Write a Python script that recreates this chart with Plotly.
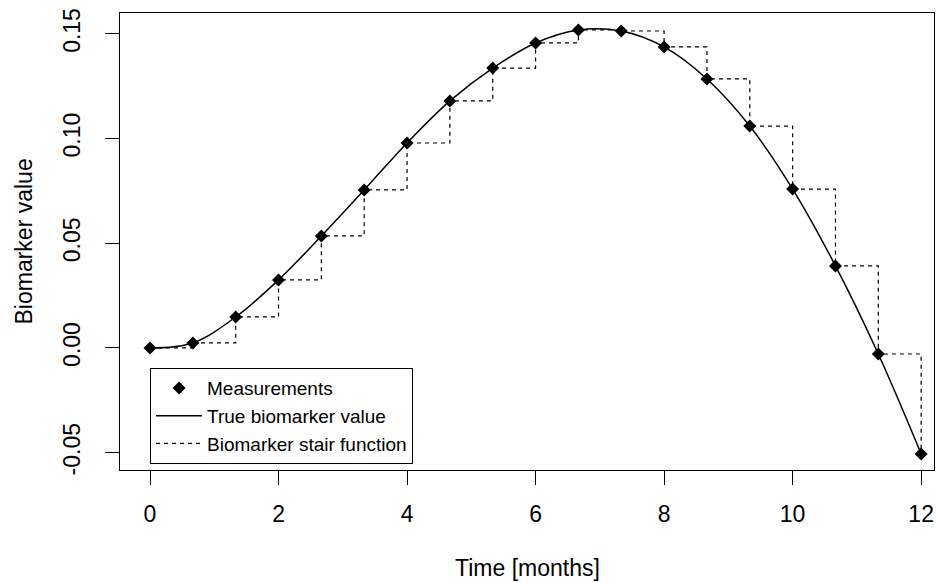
import plotly.graph_objects as go

# Measurement times (months) and biomarker values
months = [0, 2/3, 4/3, 2, 8/3, 10/3, 4, 14/3, 16/3, 6, 20/3, 22/3, 8,
          26/3, 28/3, 10, 32/3, 34/3, 12]
values = [0.0000, 0.0024, 0.0148, 0.0325, 0.0535, 0.0755, 0.0979, 0.1180,
          0.1337, 0.1457, 0.1519, 0.1514, 0.1438, 0.1285, 0.1060, 0.0759,
          0.0392, -0.0029, -0.0506]

x_ticks = [0, 2, 4, 6, 8, 10, 12]
y_ticks = [-0.05, 0.00, 0.05, 0.10, 0.15]
y_tick_labels = ["-0.05", "0.00", "0.05", "0.10", "0.15"]

FONT = "Liberation Sans, Arial, Helvetica, sans-serif"
AXIS_SIZE = 23
LEGEND_SIZE = 19

fig = go.Figure()

fig.add_trace(go.Scatter(
    x=months, y=values, mode="lines", name="True biomarker value",
    legendrank=2,
    line=dict(color="black", width=1.5, shape="spline", smoothing=1.0),
))
fig.add_trace(go.Scatter(
    x=months, y=values, mode="lines", name="Biomarker stair function",
    legendrank=3,
    line=dict(color="black", width=1.2, shape="hv", dash="4px,4px"),
))
fig.add_trace(go.Scatter(
    x=months, y=values, mode="markers", name="Measurements",
    legendrank=1,
    marker=dict(symbol="diamond", size=10, color="black"),
))

fig.update_layout(
    width=937, height=583,
    margin=dict(l=120, r=3, t=13, b=113),
    paper_bgcolor="white", plot_bgcolor="white",
    font=dict(family=FONT, size=AXIS_SIZE, color="black"),
    showlegend=True,
    legend=dict(
        x=0.0369, y=0.223, xanchor="left", yanchor="top",
        bordercolor="black", borderwidth=1, bgcolor="white",
        font=dict(family=FONT, size=LEGEND_SIZE), traceorder="normal",
        itemwidth=46,
    ),
    xaxis=dict(
        range=[-0.467, 12.20], tickvals=x_ticks, ticks="outside", ticklen=14,
        tickcolor="black", showgrid=False, zeroline=False,
        showline=True, linecolor="black", linewidth=1, mirror=True,
        ticklabelstandoff=9, tickfont=dict(family=FONT, size=AXIS_SIZE),
    ),
    yaxis=dict(
        range=[-0.0583, 0.160], tickvals=y_ticks, ticktext=y_tick_labels,
        ticks="outside", ticklen=14, tickcolor="black", tickangle=-90,
        showgrid=False, zeroline=False,
        showline=True, linecolor="black", linewidth=1, mirror=True,
        ticklabelstandoff=16, tickfont=dict(family=FONT, size=AXIS_SIZE),
    ),
    annotations=[
        dict(text="Time [months]", xref="paper", yref="paper", x=0.5, y=0,
             xanchor="center", yanchor="middle", yshift=-98, showarrow=False,
             font=dict(family=FONT, size=AXIS_SIZE)),
        dict(text="Biomarker value", xref="paper", yref="paper", x=0, y=0.5,
             xanchor="center", yanchor="middle", xshift=-97, textangle=-90,
             showarrow=False, font=dict(family=FONT, size=AXIS_SIZE)),
    ],
)

fig.write_html("out.html")
